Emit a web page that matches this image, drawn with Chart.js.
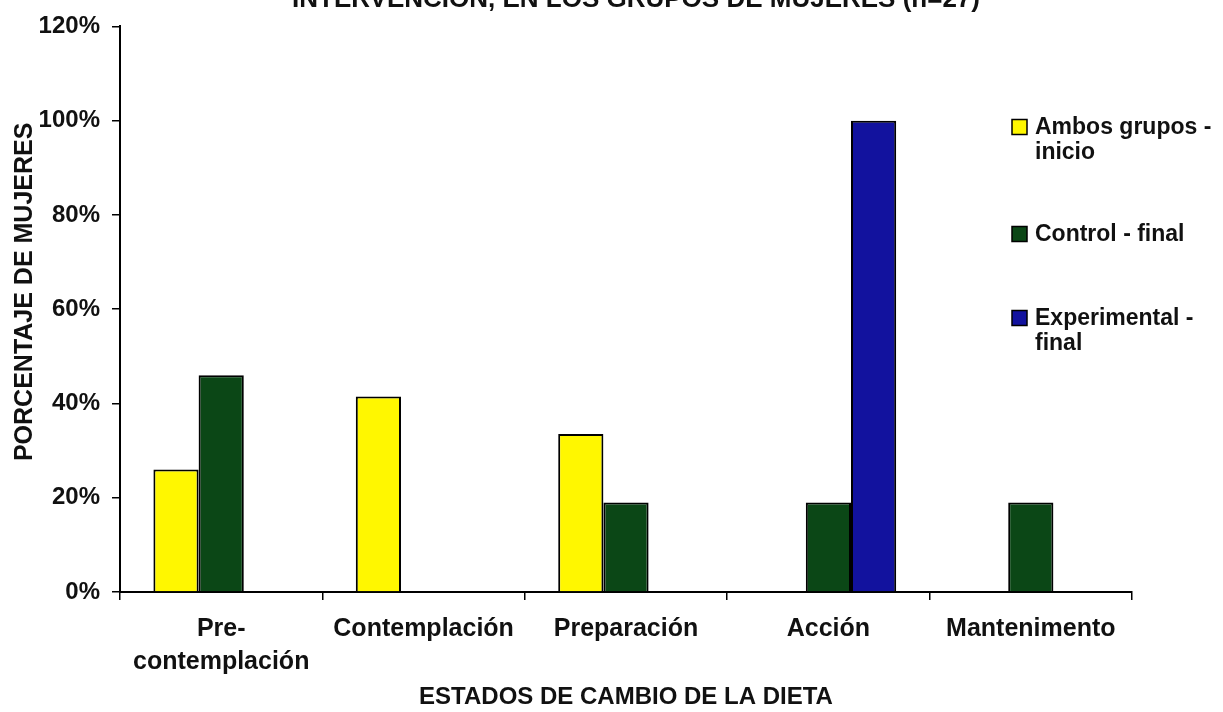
<!DOCTYPE html>
<html>
<head>
<meta charset="utf-8">
<script src="https://cdn.jsdelivr.net/npm/chart.js@4.4.1/dist/chart.umd.min.js"></script>
<style>
  html, body { margin: 0; padding: 0; background: #ffffff; }
  #wrap { width: 1223px; height: 712px; position: relative; overflow: hidden; }
  canvas { display: block; }
</style>
</head>
<body>
<div id="wrap"><canvas id="chart" width="1223" height="712"></canvas></div>
<script>
// Stages of dietary change (x categories)
const categories = [['Pre-', 'contemplación'], 'Contemplación', 'Preparación', 'Acción', 'Mantenimento'];

// Percent of women in each stage
const ambosInicio       = [26, 41.5, 33.5, 0, 0];
const controlFinal      = [46, 0, 19, 19, 19];
const experimentalFinal = [0, 0, 0, 100, 0];

const seriesLabels = [['Ambos grupos -', 'inicio'], ['Control - final'], ['Experimental -', 'final']];
const seriesColors = ['#FFF700', '#0B4716', '#12129E'];

const yTicks = [0, 20, 40, 60, 80, 100, 120];

const titleText = 'INTERVENCIÓN, EN LOS GRUPOS DE MUJERES (n=27)';
const xTitle = 'ESTADOS DE CAMBIO DE LA DIETA';
const yTitle = '     PORCENTAJE DE MUJERES';

const FONT = '"Liberation Sans", Arial, Helvetica, sans-serif';
const INK = '#111111';

// Heading partly cut by the top edge of the page
const headingPlugin = {
  id: 'heading',
  afterDraw(chart) {
    const { ctx, chartArea } = chart;
    ctx.save();
    ctx.font = 'bold 26px ' + FONT;
    ctx.fillStyle = INK;
    ctx.textAlign = 'center';
    ctx.textBaseline = 'alphabetic';
    ctx.fillText(titleText, (chartArea.left + chartArea.right) / 2 + 10, 7);
    ctx.restore();
  }
};

// Legend stacked on the right, overlapping the plot area
const sideLegendPlugin = {
  id: 'sideLegend',
  afterDraw(chart) {
    const { ctx } = chart;
    const boxX = 1012, textX = 1035, box = 15, lineGap = 25;
    const rows = [127, 234, 318];
    ctx.save();
    ctx.font = 'bold 23px ' + FONT;
    ctx.textAlign = 'left';
    ctx.textBaseline = 'middle';
    chart.data.datasets.forEach((ds, i) => {
      const y = rows[i];
      ctx.fillStyle = ds.backgroundColor;
      ctx.fillRect(boxX, y - box / 2, box, box);
      ctx.lineWidth = 1.5;
      ctx.strokeStyle = '#000';
      ctx.strokeRect(boxX, y - box / 2, box, box);
      ctx.fillStyle = INK;
      ds.label.forEach((line, k) => ctx.fillText(line, textX, y + 1 + k * lineGap));
    });
    ctx.restore();
  }
};

const whiteBg = {
  id: 'whiteBg',
  beforeDraw(chart) {
    const { ctx, width, height } = chart;
    ctx.save();
    ctx.fillStyle = '#ffffff';
    ctx.fillRect(0, 0, width, height);
    ctx.restore();
  }
};

const makeSet = (i, data) => ({
  label: seriesLabels[i],
  data: data,
  backgroundColor: seriesColors[i],
  borderColor: '#000000',
  borderWidth: 2,
  borderSkipped: 'start'
});

new Chart(document.getElementById('chart'), {
  type: 'bar',
  data: {
    labels: categories,
    datasets: [
      makeSet(0, ambosInicio),
      makeSet(1, controlFinal),
      makeSet(2, experimentalFinal)
    ]
  },
  options: {
    responsive: false,
    animation: false,
    devicePixelRatio: 1,
    categoryPercentage: 0.67,
    barPercentage: 1.0,
    layout: { padding: { top: 22, right: 91, left: 0, bottom: 0 } },
    plugins: {
      legend: { display: false },
      title: { display: false },
      tooltip: { enabled: false }
    },
    scales: {
      x: {
        offset: true,
        grid: { display: true, offset: true, drawOnChartArea: false, drawTicks: true, tickLength: 8, color: '#000', lineWidth: 1.5 },
        border: { display: true, color: '#000', width: 2 },
        ticks: {
          color: INK, autoSkip: false, maxRotation: 0, padding: 13,
          font: { family: FONT, weight: 'bold', size: 25, lineHeight: 1.32 }
        },
        title: {
          display: true, text: xTitle, color: INK,
          font: { family: FONT, weight: 'bold', size: 24 },
          padding: { top: 0, bottom: 0 }
        },
        afterFit(scale) { scale.height = 120; }
      },
      y: {
        min: 0, max: 120,
        afterBuildTicks(scale) { scale.ticks = yTicks.map(v => ({ value: v })); },
        grid: { display: true, drawOnChartArea: false, drawTicks: true, tickLength: 8, color: '#000', lineWidth: 1.5 },
        border: { display: true, color: '#000', width: 2 },
        ticks: {
          color: INK, padding: 12,
          font: { family: FONT, weight: 'bold', size: 24 },
          callback: v => v + '%'
        },
        title: {
          display: true, text: yTitle, color: INK,
          font: { family: FONT, weight: 'bold', size: 25 },
          padding: { top: 10, bottom: 0 }
        },
        afterFit(scale) { scale.width = 120; }
      }
    }
  },
  plugins: [whiteBg, headingPlugin, sideLegendPlugin]
});
</script>
</body>
</html>
